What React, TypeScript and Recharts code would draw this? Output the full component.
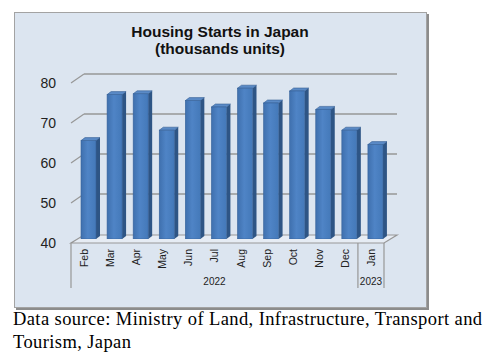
import React from 'react';
import { BarChart, Bar, XAxis, YAxis, CartesianGrid } from 'recharts';

const months = ['Feb', 'Mar', 'Apr', 'May', 'Jun', 'Jul', 'Aug', 'Sep', 'Oct', 'Nov', 'Dec', 'Jan'];
const starts = [64.6, 76.1, 76.3, 67.2, 74.6, 73.0, 77.7, 74.0, 77.0, 72.4, 67.2, 63.6];
const yTicks = [40, 50, 60, 70, 80];
const yearLabels = ['2022', '2023'];
const yearFirstMonth = [0, 11];
const yearLastMonth = [10, 11];

const data = months.map((m, i) => ({ month: m, value: starts[i] }));

const W = 495;
const H = 362;
const MARGIN = { top: 79, right: 107, bottom: 93, left: 35 };
const Y_AXIS_W = 40;
const X_AXIS_H = 30;
const PLOT_W = W - MARGIN.left - MARGIN.right - Y_AXIS_W;
const BAND = PLOT_W / months.length;

// 3D offsets relative to the bar plane
const FRONT_DX = -4;
const FRONT_DY = 4;
const BACK_DX = 9;
const BACK_DY = -5;

const GRID = '#979797';
const FONT = '"Liberation Sans", Arial, sans-serif';

function GridLine(p: any) {
  const { x1, x2, y1, y, height } = p;
  const isFloor = Math.abs(y1 - (y + height)) < 0.5;
  if (isFloor) {
    const pts = [
      [x1 + FRONT_DX, y1 + FRONT_DY],
      [x2 + FRONT_DX, y1 + FRONT_DY],
      [x2 + BACK_DX, y1 + BACK_DY + 1],
      [x1 + BACK_DX, y1 + BACK_DY + 1],
    ]
      .map((q) => q.join(','))
      .join(' ');
    return <polygon key={p.key} points={pts} fill="#e6ecf4" stroke={GRID} strokeWidth={1.2} />;
  }
  return (
    <g key={p.key}>
      <line x1={x1 + BACK_DX} y1={y1 + BACK_DY} x2={x2 + BACK_DX} y2={y1 + BACK_DY} stroke={GRID} strokeWidth={1.4} />
      <line x1={x1 + FRONT_DX} y1={y1 + FRONT_DY} x2={x1 + BACK_DX} y2={y1 + BACK_DY} stroke={GRID} strokeWidth={1.2} />
    </g>
  );
}

function YTick({ x, y, payload }: any) {
  return (
    <text x={x - 19} y={y + FRONT_DY} textAnchor="end" dominantBaseline="central" fontSize={14} fill="#222" fontFamily={FONT}>
      {payload.value}
    </text>
  );
}

function XTick({ x, y, payload }: any) {
  const i = months.indexOf(payload.value);
  const fx = x + FRONT_DX;
  const top = y + FRONT_DY;
  const parts: React.ReactNode[] = [
    <text
      key="m"
      x={0}
      y={0}
      transform={`translate(${fx},${top + 6}) rotate(-90)`}
      textAnchor="end"
      dominantBaseline="central"
      fontSize={10.5}
      fill="#222"
      fontFamily={FONT}
    >
      {payload.value}
    </text>,
  ];
  yearLabels.forEach((label, g) => {
    const a = yearFirstMonth[g];
    const b = yearLastMonth[g];
    if (i === a) {
      parts.push(<line key={`l${g}`} x1={fx - BAND / 2} y1={top} x2={fx - BAND / 2} y2={top + 45} stroke={GRID} strokeWidth={1.2} />);
    }
    if (i === b) {
      if (g === yearLabels.length - 1) {
        parts.push(<line key={`r${g}`} x1={fx + BAND / 2} y1={top} x2={fx + BAND / 2} y2={top + 45} stroke={GRID} strokeWidth={1.2} />);
      }
      const cx = fx - ((b - a) * BAND) / 2;
      parts.push(
        <text key={`y${g}`} x={cx} y={top + 38} textAnchor="middle" dominantBaseline="central" fontSize={10} fill="#222" fontFamily={FONT}>
          {label}
        </text>
      );
    }
  });
  return <g>{parts}</g>;
}

function Bar3D(p: any) {
  const { x, y, width: w, height: h } = p;
  const d = 4;
  const e = 3;
  return (
    <g>
      <polygon points={`${x + w},${y} ${x + w + d},${y - e} ${x + w + d},${y + h - e} ${x + w},${y + h}`} fill="#2e5585" />
      <polygon points={`${x},${y} ${x + d},${y - e} ${x + w + d},${y - e} ${x + w},${y}`} fill="#5a8ac6" stroke="#355f96" strokeWidth={0.6} />
      <rect x={x} y={y} width={w} height={h} fill="url(#barFront)" stroke="#36629a" strokeWidth={0.6} />
    </g>
  );
}

export default function App() {
  return (
    <div style={{ position: 'absolute', left: 0, top: 0, width: W, height: H, background: '#fff' }}>
      <div
        style={{
          position: 'absolute',
          left: 14,
          top: 12,
          width: 411,
          height: 294,
          background: '#dce5f0',
          border: '1px solid #a3a3a3',
          boxShadow: '2px 2px 0 #8c8c8c',
        }}
      />
      <div
        style={{
          position: 'absolute',
          left: 110,
          top: 23,
          width: 220,
          textAlign: 'center',
          fontFamily: FONT,
          fontWeight: 'bold',
          fontSize: 15.5,
          lineHeight: '17px',
          color: '#111',
        }}
      >
        Housing Starts in Japan
        <br />
        (thousands units)
      </div>
      <div style={{ position: 'absolute', left: 0, top: 0 }}>
        <BarChart width={W} height={H} data={data} margin={MARGIN}>
          <defs>
            <linearGradient id="barFront" x1="0" y1="0" x2="1" y2="0">
              <stop offset="0%" stopColor="#3f70ae" />
              <stop offset="45%" stopColor="#4f84c6" />
              <stop offset="100%" stopColor="#4479b9" />
            </linearGradient>
          </defs>
          <CartesianGrid vertical={false} horizontal={GridLine} />
          <XAxis
            dataKey="month"
            height={X_AXIS_H}
            axisLine={false}
            tickLine={false}
            tickSize={0}
            tickMargin={0}
            interval={0}
            tick={XTick}
          />
          <YAxis
            width={Y_AXIS_W}
            domain={[40, 80]}
            ticks={yTicks}
            allowDataOverflow
            axisLine={false}
            tickLine={false}
            tickSize={0}
            tickMargin={0}
            tick={YTick}
          />
          <Bar dataKey="value" barSize={15} shape={Bar3D} isAnimationActive={false} />
        </BarChart>
      </div>
      <div
        style={{
          position: 'absolute',
          left: 13,
          top: 308,
          fontFamily: '"Liberation Serif", "Times New Roman", serif',
          fontSize: 18.5,
          letterSpacing: 0.4,
          lineHeight: '23px',
          color: '#000',
          whiteSpace: 'nowrap',
        }}
      >
        Data source: Ministry of Land, Infrastructure, Transport and
        <br />
        Tourism, Japan
      </div>
    </div>
  );
}
